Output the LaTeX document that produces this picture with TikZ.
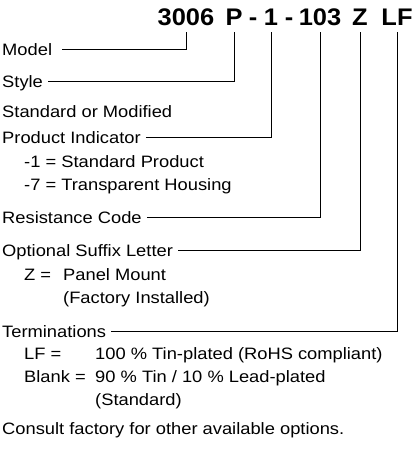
\documentclass[tikz,border=0pt]{standalone}
\usepackage{fontspec}
\setmainfont{Liberation Sans}
\newfontfamily\lblfont[FakeStretch=1.11]{Liberation Sans}
\newfontfamily\codefont[FakeStretch=1.06]{Liberation Sans}
\begin{document}
\begin{tikzpicture}[x=1pt,y=1pt,
  lbl/.style={anchor=base west,inner sep=0pt,font=\lblfont\fontsize{16.5}{19}\selectfont},
  code/.style={anchor=base,inner sep=0pt,font=\codefont\fontsize{24}{28}\selectfont\bfseries},
  lead/.style={line width=1pt}]
\useasboundingbox (0,0) rectangle (420,-451);
\node[code] (model) at (186,-25) {3006};
\node[code] (style) at (234,-25) {P};
\node[code] at (253,-25) {-};
\node[code] (prod) at (271,-25) {1};
\node[code] at (289,-25) {-};
\node[code] (res) at (320,-25) {103};
\node[code] (suffix) at (360,-25) {Z};
\node[code] (term) at (397,-25) {LF};
\node[lbl] (Lmodel) at (2,-55) {Model};
\node[lbl] (Lstyle) at (2,-87) {Style};
\node[lbl] at (2,-117) {Standard or Modified};
\node[lbl] (Lprod) at (2,-143) {Product Indicator};
\node[lbl] at (24,-167) {-1 = Standard Product};
\node[lbl] at (24,-190) {-7 = Transparent Housing};
\node[lbl] (Lres) at (2,-223) {Resistance Code};
\node[lbl] (Lsuffix) at (2,-256) {Optional Suffix Letter};
\node[lbl] at (24,-280) {Z =};
\node[lbl] at (63,-280) {Panel Mount};
\node[lbl] at (63,-303) {(Factory Installed)};
\node[lbl] (Lterm) at (2,-337) {Terminations};
\node[lbl] at (24,-359) {LF =};
\node[lbl] at (95,-359) {100 \% Tin-plated (RoHS compliant)};
\node[lbl] at (24,-382) {Blank =};
\node[lbl] at (95,-382) {90 \% Tin / 10 \% Lead-plated};
\node[lbl] at (95,-405) {(Standard)};
\node[lbl] at (2,-434) {Consult factory for other available options.};
\draw[lead] ([xshift=10pt,yshift=6pt]Lmodel.base east) -| ([yshift=-7pt]model.base);
\draw[lead] ([xshift=5pt,yshift=6pt]Lstyle.base east) -| ([yshift=-7pt]style.base);
\draw[lead] ([xshift=5pt,yshift=6pt]Lprod.base east) -| ([yshift=-7pt]prod.base);
\draw[lead] ([xshift=5pt,yshift=6pt]Lres.base east) -| ([yshift=-7pt]res.base);
\draw[lead] ([xshift=5pt,yshift=6pt]Lsuffix.base east) -| ([yshift=-7pt]suffix.base);
\draw[lead] ([xshift=5pt,yshift=6pt]Lterm.base east) -| ([yshift=-7pt]term.base);
\end{tikzpicture}
\end{document}
